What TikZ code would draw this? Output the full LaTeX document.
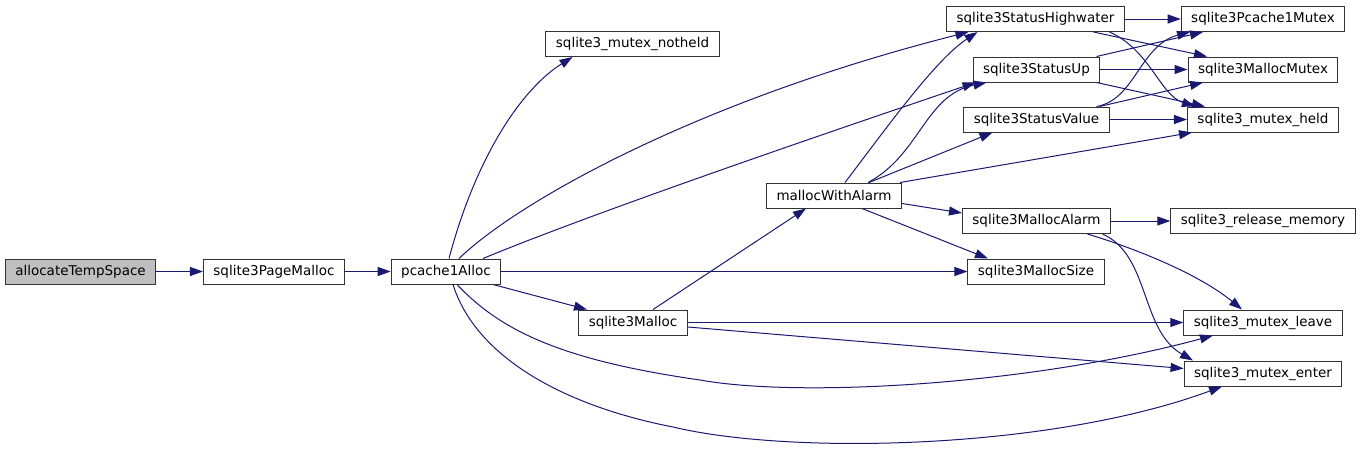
\documentclass[tikz,border=0pt]{standalone}
\usepackage{fontspec}
\setmainfont{DejaVu Sans}
\usetikzlibrary{arrows.meta}
\definecolor{CallBlue}{RGB}{25,25,112}
\definecolor{RootGray}{RGB}{191,191,191}
\tikzset{
  fn/.style={draw=black!80,fill=white,line width=1pt,minimum height=25pt,inner xsep=10pt,inner ysep=0pt,
    font=\fontsize{13.5}{15}\selectfont},
  root/.style={fn,fill=RootGray},
  call/.style={draw=CallBlue,line width=1pt,-{Triangle[length=13pt,width=9pt]}},
}

\begin{document}
\begin{tikzpicture}[x=1pt,y=-1pt]
\useasboundingbox (0,0) rectangle (1360,450);
\node[root] (ats) at (80.5,271.5) {allocateTempSpace};
\node[fn] (pgm) at (274,271.5) {sqlite3PageMalloc};
\node[fn] (pca) at (446,271.5) {pcache1Alloc};
\node[fn] (nth) at (632.5,44) {sqlite3\_mutex\_notheld};
\node[fn] (mlc) at (633,322.5) {sqlite3Malloc};
\node[fn] (mwa) at (834,195.5) {mallocWithAlarm};
\node[fn] (shw) at (1035.5,19) {sqlite3StatusHighwater};
\node[fn] (stu) at (1036.5,69.5) {sqlite3StatusUp};
\node[fn] (stv) at (1036.5,119.5) {sqlite3StatusValue};
\node[fn] (mal) at (1036.5,221) {sqlite3MallocAlarm};
\node[fn] (msz) at (1036,271.5) {sqlite3MallocSize};
\node[fn] (pmx) at (1263,19) {sqlite3Pcache1Mutex};
\node[fn] (mmx) at (1263,69.5) {sqlite3MallocMutex};
\node[fn] (mhd) at (1263,119.5) {sqlite3\_mutex\_held};
\node[fn] (rlm) at (1263,221) {sqlite3\_release\_memory};
\node[fn] (mlv) at (1263,322.5) {sqlite3\_mutex\_leave};
\node[fn] (men) at (1263,373.5) {sqlite3\_mutex\_enter};
\draw[call] (ats.east) -- (pgm.west);
\draw[call] (pgm.east) -- (pca.west);
\draw[call] ([xshift=3pt]pca.north) .. controls (475,160) and (520,90) .. ([xshift=-60pt]nth.south);
\draw[call] ([xshift=13pt]pca.north) .. controls (520,200) and (700,100) .. ([xshift=-67pt]shw.south);
\draw[call] ([xshift=37pt]pca.north) .. controls (600,210) and (850,125) .. ([xshift=-61pt]stu.south);
\draw[call] (pca.east) -- (msz.west);
\draw[call] ([xshift=47pt]pca.south) -- ([xshift=-46pt]mlc.north);
\draw[call] ([xshift=11pt]pca.south) .. controls (500,330) and (560,360) .. (700,380) .. controls (800,398) and (1030,385) .. ([xshift=-50pt]mlv.south);
\draw[call] ([xshift=7pt]pca.south) .. controls (475,355) and (560,405) .. (673,427) .. controls (790,455) and (1050,450) .. ([xshift=-41pt]men.south);
\draw[call] ([xshift=20pt]mlc.north) -- ([xshift=-28pt]mwa.south);
\draw[call] (mlc.east) -- (mlv.west);
\draw[call] ([yshift=-4.5pt]mlc.east) -- ([yshift=5pt]men.west);
\draw[call] ([xshift=11pt]mwa.north) .. controls (885,130) and (935,60) .. ([xshift=-58pt]shw.south);
\draw[call] ([xshift=34pt]mwa.north) .. controls (920,155) and (925,95) .. ([xshift=-50pt]stu.south);
\draw[call] ([xshift=35pt]mwa.north) -- ([xshift=-44pt]stv.south);
\draw[call] ([xshift=66pt]mwa.north) -- ([xshift=-71pt]mhd.south);
\draw[call] ([yshift=-8pt]mwa.east) -- ([yshift=8pt]mal.west);
\draw[call] ([xshift=28pt]mwa.south) -- ([xshift=-48pt]msz.north);
\draw[call] (mal.east) -- (rlm.west);
\draw[call] ([xshift=51pt]mal.south) .. controls (1140,250) and (1200,275) .. ([xshift=-21pt]mlv.north);
\draw[call] ([xshift=66pt]mal.south) .. controls (1150,255) and (1140,330) .. ([xshift=-70pt]men.north);
\draw[call] (shw.east) -- (pmx.west);
\draw[call] ([xshift=58pt]shw.south) -- ([xshift=-56pt]mmx.north);
\draw[call] ([xshift=74pt]shw.south) .. controls (1150,50) and (1160,95) .. ([xshift=-68pt]mhd.north);
\draw[call] ([xshift=60pt]stu.north) -- ([xshift=-60pt]pmx.south);
\draw[call] (stu.east) -- (mmx.west);
\draw[call] ([xshift=60pt]stu.south) -- ([xshift=-58pt]mhd.north);
\draw[call] ([xshift=60pt]stv.north) .. controls (1135,100) and (1140,45) .. ([xshift=-73pt]pmx.south);
\draw[call] ([xshift=63pt]stv.north) -- ([xshift=-60pt]mmx.south);
\draw[call] (stv.east) -- (mhd.west);
\end{tikzpicture}
\end{document}
